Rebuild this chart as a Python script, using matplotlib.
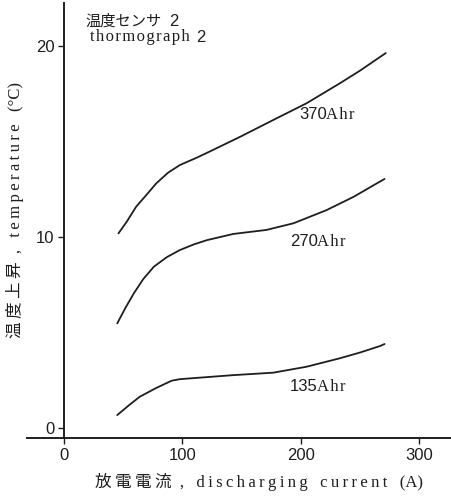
import matplotlib
matplotlib.use("Agg")
import matplotlib.pyplot as plt
from matplotlib.transforms import offset_copy

# discharging current (A) vs temperature rise (deg C)
current_370 = [46, 53, 61, 70, 78, 88, 98, 111, 123, 149, 177, 205, 233, 250, 272]
temp_370 = [10.19, 10.80, 11.59, 12.23, 12.81, 13.37, 13.77, 14.12, 14.47, 15.25,
            16.13, 17.00, 18.04, 18.70, 19.63]

current_270 = [45, 52, 59, 67, 76, 87, 98, 110, 121, 143, 171, 194, 222, 245, 267, 271]
temp_270 = [5.48, 6.30, 7.05, 7.80, 8.45, 8.95, 9.32, 9.62, 9.84, 10.16, 10.37,
            10.72, 11.41, 12.11, 12.90, 13.04]

current_135 = [45, 55, 64, 78, 91, 98, 115, 143, 177, 205, 233, 250, 267, 271]
temp_135 = [0.68, 1.20, 1.64, 2.10, 2.48, 2.56, 2.64, 2.77, 2.90, 3.21, 3.65, 3.95,
            4.29, 4.40]

series = [("370", current_370, temp_370),
          ("270", current_270, temp_270),
          ("135", current_135, temp_135)]
label_pos = {"370": (199, 16.4), "270": (191, 9.74), "135": (191, 2.15)}

x_ticks = [0, 100, 200, 300]
y_ticks = [0, 10, 20]

SANS = ["Liberation Sans", "DejaVu Sans"]
SERIF = ["Liberation Serif", "DejaVu Serif", "Noto Sans CJK JP"]
CJK = ["Noto Sans CJK JP", "DejaVu Sans"]
INK = "#1e1e1e"


def spaced(s: str, gap: str = "\u2009") -> str:
    return gap.join(s)


fig = plt.figure(figsize=(4.52, 4.96), dpi=100)
ax = fig.add_axes([27 / 452, 58 / 496, 1 - 27 / 452, 435 / 496])

for name, xs, ys in series:
    ax.plot(xs, ys, color=INK, lw=1.3, solid_capstyle="round", solid_joinstyle="round")
    lx, ly = label_pos[name]
    ax.text(lx, ly, name, family=SANS, fontsize=12, color=INK, va="center", ha="left")
    ax.text(lx, ly, spaced("Ahr", "\u200a"), family=SERIF, fontsize=12, color=INK,
            va="center", ha="left",
            transform=offset_copy(ax.transData, fig=fig, x=27, units="dots"))

ax.set_xlim(-31.3, 328)
ax.set_ylim(-0.52, 22.25)
ax.spines["left"].set_position(("data", 0))
ax.spines["top"].set_visible(False)
ax.spines["right"].set_visible(False)
for sp in ("left", "bottom"):
    ax.spines[sp].set_linewidth(1.4)
    ax.spines[sp].set_color(INK)

ax.set_xticks(x_ticks)
ax.set_yticks(y_ticks)
ax.tick_params(direction="out", length=4, width=1, colors=INK, labelsize=12, pad=3)
for lab in ax.get_xticklabels() + ax.get_yticklabels():
    lab.set_family(SANS)

# caption block in the upper left
ax.text(17.8, 21.3, "温度センサ", family=CJK, fontsize=11, color=INK, va="center")
ax.text(17.8, 21.3, "2", family=SANS, fontsize=12, color=INK,
        va="center", transform=offset_copy(ax.transData, fig=fig, x=84, units="dots"))
ax.text(21.9, 20.45, spaced("thormograph", "\u200a"), family=SERIF, fontsize=12,
        color=INK, va="center")
ax.text(21.9, 20.45, "2", family=SANS, fontsize=12, color=INK,
        va="center", transform=offset_copy(ax.transData, fig=fig, x=106, units="dots"))

fig.text(259 / 452, 1 - 482 / 496,
         spaced("放電電流") + "  ,   " + spaced("discharging") + "   " + spaced("current")
         + "   (A)", family=SERIF, fontsize=12, color=INK, ha="center", va="center")
fig.text(15 / 452, 1 - 210 / 496,
         spaced("温度上昇") + "  ,   " + spaced("temperature") + "   (°C)",
         family=SERIF, fontsize=12, color=INK, ha="center", va="center", rotation=90)

fig.savefig("out.png", dpi=100)
